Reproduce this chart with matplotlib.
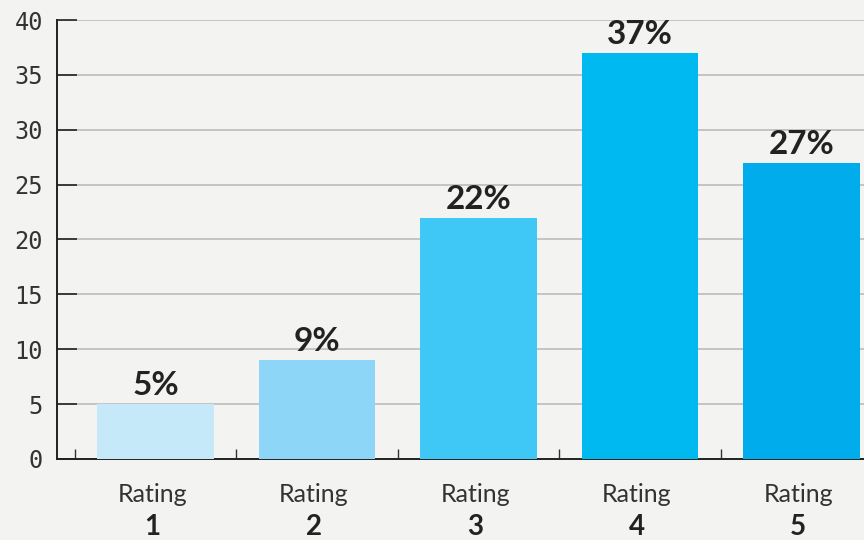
import numpy as np
import matplotlib.pyplot as plt

# rating distribution (percent of responses)
ratings = ['1', '2', '3', '4', '5']
shares = [5, 9, 22, 37, 27]
bar_colors = ['#c6e9f9', '#8dd6f7', '#3fc7f5', '#00b9f1', '#00acec']
yticks = [0, 5, 10, 15, 20, 25, 30, 35, 40]

bg = '#f3f3f1'
fig = plt.figure(figsize=(8.64, 5.4), dpi=100, facecolor=bg)
ax = fig.add_axes([57 / 864, 81 / 540, 1 - 57 / 864, 439 / 540])
ax.set_facecolor(bg)

x = np.arange(len(ratings))
bars = ax.bar(x, shares, width=0.724, color=bar_colors, zorder=3)

# percent labels above the bars
for b, v in zip(bars, shares):
    ax.annotate(f'{v}%', (b.get_x() + b.get_width() / 2, v),
                xytext=(0, 6.5), textcoords='offset points',
                ha='center', va='baseline', fontsize=24,
                fontweight='bold', family='Lato', color='#222222')

ax.set_ylim(0, 40)
ax.set_xlim(-0.61, 4.387)
ax.set_yticks(yticks)
ax.tick_params(axis='y', direction='in', length=14.5, width=1.2,
               color='#222222', pad=10, labelsize=17, labelcolor='#333333')
for lab in ax.get_yticklabels():
    lab.set_family('DejaVu Sans Mono')
ax.yaxis.grid(True, color='#c4c4c6', linewidth=1.4, zorder=0)
ax.set_axisbelow(True)

# small ticks between the categories
ax.set_xticks(x - 0.5)
ax.set_xticklabels([])
ax.tick_params(axis='x', direction='in', length=7, width=1.0, color='#333333')

trans = ax.get_xaxis_transform()
for xi, r in zip(x, ratings):
    ax.text(xi - 0.02, -0.08, 'Rating', transform=trans, ha='center', va='center',
            fontsize=18, family='Lato', color='#333333')
    ax.text(xi - 0.02, -0.155, r, transform=trans, ha='center', va='center',
            fontsize=20, fontweight='bold', family='Lato', color='#222222')

for s in ['top', 'right']:
    ax.spines[s].set_visible(False)
for s in ['left', 'bottom']:
    ax.spines[s].set_color('#222222')
    ax.spines[s].set_linewidth(1.4)

fig.savefig('out.png', dpi=100, facecolor=bg)
